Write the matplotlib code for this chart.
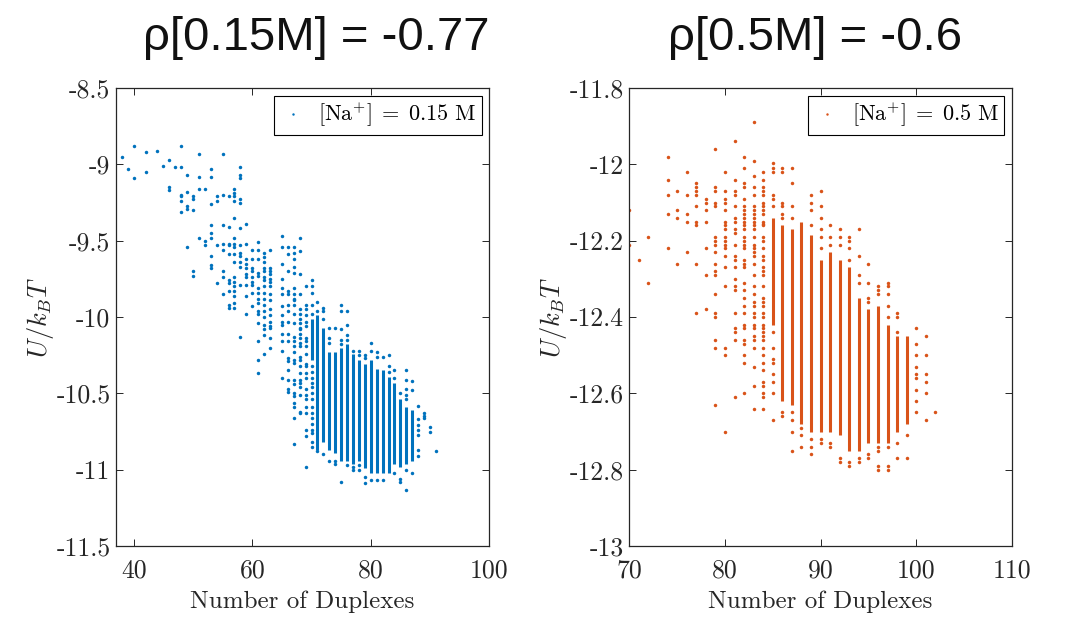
import matplotlib
matplotlib.use("Agg")
import matplotlib.pyplot as plt

plt.rcParams['font.family'] = 'serif'
plt.rcParams['font.serif'] = ['cmr10', 'DejaVu Serif']
plt.rcParams['mathtext.fontset'] = 'cm'
plt.rcParams['axes.unicode_minus'] = False

BLUE = '#0072BD'
ORANGE = '#D95319'

# ---- [Na+] = 0.15 M : sparse points per duplex count ----
left_x = [38, 39, 40, 42, 44, 45, 46, 47, 48, 49, 50, 51, 52, 53, 54, 55, 56, 57, 58, 59,
          60, 61, 62, 63, 65, 66, 67, 68, 69, 70, 71, 72, 73, 74, 75, 76, 77, 78, 79, 80,
          81, 82, 83, 84, 85, 86, 87, 88, 89, 90, 91]
left_pts = [
    [-8.95], [-9.03], [-8.88, -9.09], [-8.92, -9.05], [-8.91], [-9.01],
    [-8.97, -9.15, -9.17], [-9.02],
    [-8.88, -9.02, -9.20, -9.21, -9.24, -9.31],
    [-9.07, -9.18, -9.27, -9.29, -9.54],
    [-9.21, -9.23, -9.30, -9.70, -9.73],
    [-8.93, -9.08, -9.16, -9.48],
    [-9.16, -9.50, -9.53],
    [-9.03, -9.08, -9.26, -9.40, -9.45, -9.48, -9.60, -9.66, -9.68],
    [-9.21, -9.24, -9.53, -9.78],
    [-8.93, -9.20, -9.40, -9.52, -9.56, -9.70, -9.74, -9.85],
    [-9.21, -9.41, -9.52, -9.53, -9.59, -9.76, -9.78, -9.83, -9.92, -9.94],
    [-9.16, -9.19, -9.21, -9.24, -9.35, -9.48, -9.52, -9.54, -9.59, -9.64, -9.74, -9.77,
     -9.80, -9.83, -9.86, -9.91, -9.94],
    [-9.02, -9.07, -9.09, -9.23, -9.25, -9.42, -9.53, -9.58, -9.60, -9.64, -9.67, -9.79, -10.13],
    [-9.39, -9.52, -9.62, -9.65, -9.68, -9.72, -9.74, -9.79, -9.86, -9.98],
    [-9.56, -9.62, -9.68, -9.70, -9.74, -9.77, -9.79, -9.84, -9.93],
    [-9.51, -9.56, -9.62, -9.71, -9.73, -9.81, -9.84, -9.88, -9.91, -9.96, -9.98, -10.04,
     -10.16, -10.28, -10.37],
    [-9.58, -9.61, -9.64, -9.68, -9.70, -9.74, -9.76, -9.80, -9.84, -9.88, -9.92, -9.96,
     -10.00, -10.05, -10.08, -10.12, -10.24],
    [-9.56, -9.68, -9.70, -9.72, -9.75, -9.77, -9.80, -9.85, -9.89, -9.95, -9.99, -10.03,
     -10.06, -10.07, -10.14, -10.20],
    [-9.47, -9.54, -9.65, -9.75, -9.81, -9.85, -9.93, -9.99, -10.03, -10.05, -10.11, -10.16,
     -10.22, -10.40],
    [-9.54, -9.59, -9.70, -9.83, -9.85, -9.92, -9.96, -10.03, -10.11, -10.16, -10.27, -10.29,
     -10.35, -10.41, -10.47, -10.49],
    [-9.54, -9.58, -9.62, -9.67, -9.71, -9.81, -9.85, -9.88, -9.89, -9.92, -9.98, -10.04,
     -10.13, -10.16, -10.19, -10.23, -10.28, -10.30, -10.41, -10.44, -10.50, -10.52, -10.56,
     -10.59, -10.66, -10.83],
    [-9.48, -9.57, -9.72, -9.85, -9.95, -9.98, -10.01, -10.04, -10.07, -10.08, -10.11, -10.14,
     -10.17, -10.19, -10.26, -10.28, -10.32, -10.37, -10.41, -10.43, -10.46, -10.51, -10.62,
     -10.63],
    [-9.80, -9.92, -9.95, -9.99, -10.03, -10.06, -10.14, -10.16, -10.19, -10.24, -10.31,
     -10.32, -10.37, -10.40, -10.47, -10.51, -10.54, -10.59, -10.63, -10.74, -10.78, -10.98],
    [-9.76, -9.80, -9.84, -9.92, -9.98, -10.32, -10.36, -10.40, -10.43, -10.46, -10.50,
     -10.54, -10.59, -10.63, -10.66, -10.70, -10.74, -10.76, -10.82, -10.85],
    [-9.90, -9.96, -10.88],
    [-9.94, -9.96, -10.01, -10.90],
    [-10.07, -10.14, -10.17, -10.94],
    [-10.07, -10.94, -10.96],
    [-9.92, -9.96, -10.08, -10.15, -10.18, -11.08],
    [-9.96, -10.05, -10.12, -10.15, -10.97],
    [-10.22, -10.98, -11.00],
    [-10.22, -10.25, -10.97, -11.00],
    [-10.25, -10.27, -11.05, -11.09],
    [-10.17, -10.22, -11.07],
    [-10.23, -10.26, -11.07],
    [-10.26, -11.07],
    [-10.25, -10.32, -10.36],
    [-10.35, -10.40, -11.02],
    [-10.50, -11.06, -11.08],
    [-10.35, -10.41, -10.47, -10.51, -10.54, -11.00, -11.13],
    [-10.42, -10.48, -11.02],
    [-10.58, -10.67, -10.71, -10.74, -10.77, -10.87, -10.91],
    [-10.63, -10.65, -10.66],
    [-10.72, -10.75],
    [-10.88],
]
# dense stretches of the crowded columns
left_core_x = [70, 71, 72, 73, 74, 75, 76, 77, 78, 79, 80, 81, 82, 83, 84, 85, 86, 87]
left_core_lo = [-10.28, -10.87, -10.82, -10.87, -10.89, -10.94, -10.94, -10.96, -10.94,
                -10.99, -11.02, -11.02, -11.02, -11.02, -10.96, -10.98, -10.96, -10.94]
left_core_hi = [-10.01, -9.99, -10.07, -10.23, -10.23, -10.20, -10.18, -10.24, -10.28,
                -10.31, -10.28, -10.34, -10.35, -10.39, -10.43, -10.54, -10.59, -10.61]

# ---- [Na+] = 0.5 M ----
right_x = [70, 71, 72, 74, 75, 76, 77, 78, 79, 80, 81, 82, 83, 84, 85, 86, 87, 88, 89, 90,
           91, 92, 93, 94, 95, 96, 97, 98, 99, 100, 101, 102]
right_pts = [
    [-12.12, -12.21], [-12.25], [-12.19, -12.31],
    [-11.98, -12.04, -12.08, -12.13, -12.22],
    [-12.07, -12.12, -12.14, -12.26],
    [-12.02, -12.08, -12.13, -12.15, -12.23],
    [-12.05, -12.06, -12.07, -12.08, -12.11, -12.15, -12.16, -12.26, -12.39],
    [-12.09, -12.10, -12.12, -12.15, -12.22, -12.29, -12.38],
    [-11.96, -12.06, -12.07, -12.10, -12.11, -12.19, -12.20, -12.21, -12.23, -12.26, -12.28,
     -12.29, -12.34, -12.39, -12.40, -12.46, -12.48, -12.63],
    [-12.02, -12.07, -12.09, -12.10, -12.12, -12.15, -12.16, -12.17, -12.19, -12.20, -12.21,
     -12.22, -12.24, -12.27, -12.32, -12.48, -12.50, -12.70],
    [-11.94, -12.04, -12.07, -12.08, -12.11, -12.14, -12.15, -12.17, -12.18, -12.21, -12.24,
     -12.25, -12.27, -12.30, -12.32, -12.33, -12.39, -12.43, -12.44, -12.46, -12.61],
    [-11.98, -12.01, -12.05, -12.06, -12.09, -12.11, -12.12, -12.13, -12.14, -12.15, -12.16,
     -12.17, -12.19, -12.20, -12.21, -12.22, -12.25, -12.26, -12.27, -12.31, -12.33, -12.35,
     -12.37, -12.39, -12.42, -12.43, -12.46, -12.47, -12.50, -12.52, -12.60],
    [-11.89, -11.99, -12.03, -12.06, -12.08, -12.11, -12.12, -12.13, -12.14, -12.15, -12.16,
     -12.17, -12.19, -12.21, -12.22, -12.23, -12.24, -12.26, -12.29, -12.32, -12.34, -12.36,
     -12.37, -12.39, -12.40, -12.42, -12.43, -12.45, -12.46, -12.48, -12.53, -12.58, -12.64],
    [-12.02, -12.04, -12.06, -12.07, -12.08, -12.10, -12.11, -12.12, -12.13, -12.15, -12.155,
     -12.16, -12.19, -12.20, -12.22, -12.24, -12.25, -12.27, -12.28, -12.29, -12.32, -12.35,
     -12.36, -12.37, -12.39, -12.40, -12.42, -12.43, -12.44, -12.45, -12.46, -12.48, -12.50,
     -12.52, -12.54, -12.57, -12.58, -12.60, -12.61, -12.64],
    [-11.997, -12.01, -12.02, -12.08, -12.09, -12.11, -12.44, -12.48, -12.51, -12.52, -12.55,
     -12.57, -12.60, -12.67],
    [-12.01, -12.02, -12.10, -12.11, -12.13, -12.14, -12.65, -12.66],
    [-12.01, -12.05, -12.11, -12.14, -12.65, -12.67, -12.70, -12.75],
    [-12.69, -12.71, -12.74],
    [-12.08, -12.10, -12.12, -12.16, -12.72, -12.74, -12.76],
    [-12.07, -12.11, -12.14, -12.17, -12.19, -12.22, -12.72, -12.73],
    [-12.16, -12.19, -12.21, -12.73, -12.74],
    [-12.17, -12.19, -12.21, -12.77, -12.78],
    [-12.19, -12.20, -12.22, -12.25, -12.78, -12.79],
    [-12.17, -12.24, -12.29, -12.31, -12.77, -12.78],
    [-12.26, -12.31, -12.35, -12.36, -12.76, -12.77],
    [-12.32, -12.33, -12.34, -12.74, -12.75, -12.79, -12.80],
    [-12.31, -12.32, -12.34, -12.37, -12.40, -12.74, -12.79, -12.80],
    [-12.39, -12.40, -12.44, -12.73, -12.77],
    [-12.71, -12.77],
    [-12.43, -12.47, -12.50, -12.53, -12.55, -12.56, -12.59, -12.62, -12.65],
    [-12.45, -12.50, -12.55, -12.57, -12.60, -12.67],
    [-12.65],
]
right_core_x = [85, 86, 87, 88, 89, 90, 91, 92, 93, 94, 95, 96, 97, 98, 99]
right_core_lo = [-12.42, -12.62, -12.63, -12.68, -12.70, -12.70, -12.70, -12.71, -12.75,
                 -12.75, -12.73, -12.73, -12.73, -12.70, -12.68]
right_core_hi = [-12.14, -12.16, -12.17, -12.15, -12.185, -12.25, -12.23, -12.25, -12.27,
                 -12.35, -12.38, -12.37, -12.42, -12.45, -12.45]

fig = plt.figure(figsize=(10.66, 6.36), dpi=100)
ax1 = fig.add_axes([0.1088, 0.1415, 0.3502, 0.7201])
ax2 = fig.add_axes([0.5903, 0.1415, 0.3590, 0.7201])


def draw(ax, xs, pts, cx, clo, chi, color, label):
    px = [x for x, ys in zip(xs, pts) for _ in ys]
    py = [y for ys in pts for y in ys]
    ax.vlines(cx, clo, chi, colors=color, linewidth=2.2)
    ax.plot(px, py, 'o', color=color, ms=2.5, mew=0, label=label)
    leg = ax.legend(loc='upper right', fontsize=16, fancybox=False, framealpha=1,
                    edgecolor='black', borderaxespad=0.35, handlelength=1.2,
                    handletextpad=0.5, borderpad=0.25, markerscale=0.7)
    leg.get_frame().set_linewidth(0.8)
    for s in ax.spines.values():
        s.set_color('#262626')
        s.set_linewidth(0.9)
    ax.tick_params(direction='in', top=True, right=True, length=5, width=0.7,
                   labelsize=18.5, colors='#262626', pad=4)
    ax.tick_params(axis='x', pad=9)
    ax.set_xlabel('Number of Duplexes', fontsize=18, color='#262626', labelpad=6)
    ax.set_ylabel(r'$U/k_BT$', fontsize=19, color='#262626', labelpad=0)


draw(ax1, left_x, left_pts, left_core_x, left_core_lo, left_core_hi, BLUE,
     r'$[\mathrm{Na}^{+}]\;=\;0.15\ \mathrm{M}$')
draw(ax2, right_x, right_pts, right_core_x, right_core_lo, right_core_hi, ORANGE,
     r'$[\mathrm{Na}^{+}]\;=\;0.5\ \mathrm{M}$')

ax1.set_xlim(37, 100)
ax1.set_ylim(-11.5, -8.5)
ax1.set_xticks([40, 60, 80, 100])
ax1.set_xticklabels(['40', '60', '80', '100'])
ax1.set_yticks([-11.5, -11, -10.5, -10, -9.5, -9, -8.5])
ax1.set_yticklabels(['-11.5', '-11', '-10.5', '-10', '-9.5', '-9', '-8.5'])

ax2.set_xlim(70, 110)
ax2.set_ylim(-13, -11.8)
ax2.set_xticks([70, 80, 90, 100, 110])
ax2.set_xticklabels(['70', '80', '90', '100', '110'])
ax2.set_yticks([-13, -12.8, -12.6, -12.4, -12.2, -12, -11.8])
ax2.set_yticklabels(['-13', '-12.8', '-12.6', '-12.4', '-12.2', '-12', '-11.8'])

fig.text(316 / 1066, 1 - 50 / 636, 'ρ[0.15M] = -0.77', ha='center', va='baseline',
         fontsize=34, family='Liberation Sans', color='#111111')
fig.text(815 / 1066, 1 - 50 / 636, 'ρ[0.5M] = -0.6', ha='center', va='baseline',
         fontsize=34, family='Liberation Sans', color='#111111')

fig.savefig('out.png', dpi=100)
